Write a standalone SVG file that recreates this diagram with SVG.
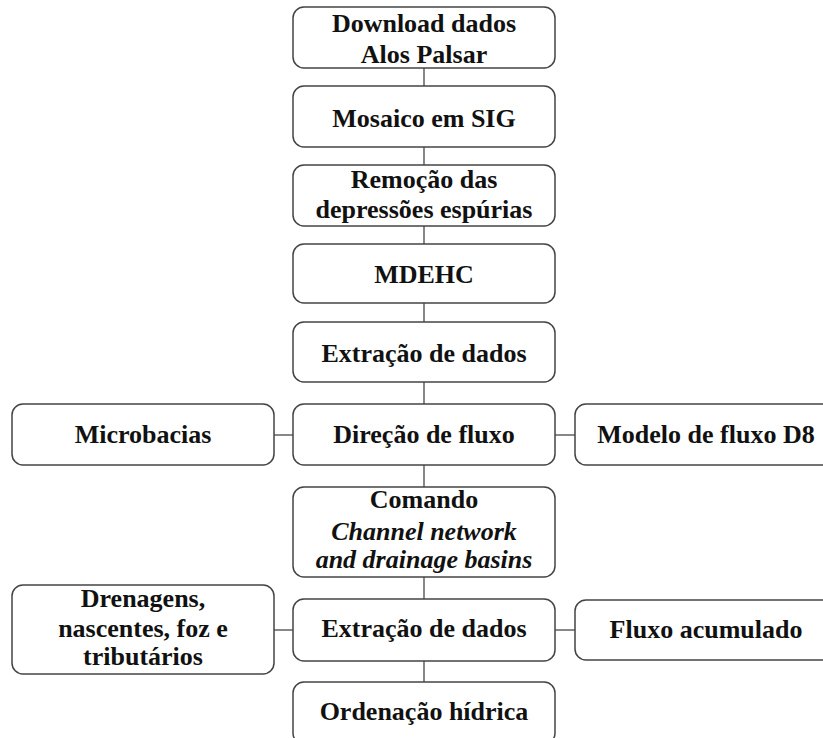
<svg xmlns="http://www.w3.org/2000/svg" width="823" height="738" viewBox="0 0 823 738">
<style>
.box{fill:#fff;stroke:#444;stroke-width:1.5}
.t{font-family:"Liberation Serif","Times New Roman",serif;font-weight:bold;font-size:26px;fill:#111;text-anchor:middle}
.i{font-style:italic}
.c{stroke:#555;stroke-width:1.4;fill:none}
</style>
<rect width="823" height="738" fill="#fff"/>
<g id="connectors">
<line class="c" x1="424" y1="68" x2="424" y2="86"/>
<line class="c" x1="424" y1="147" x2="424" y2="165"/>
<line class="c" x1="424" y1="226" x2="424" y2="244"/>
<line class="c" x1="424" y1="303" x2="424" y2="322"/>
<line class="c" x1="424" y1="382" x2="424" y2="404"/>
<line class="c" x1="424" y1="465" x2="424" y2="487"/>
<line class="c" x1="424" y1="577" x2="424" y2="599"/>
<line class="c" x1="424" y1="661" x2="424" y2="682"/>
<line class="c" x1="274" y1="435" x2="293" y2="435"/>
<line class="c" x1="555" y1="435" x2="575" y2="435"/>
<line class="c" x1="274" y1="630" x2="293" y2="630"/>
<line class="c" x1="555" y1="630" x2="575" y2="630"/>
</g>
<g id="n1"><rect class="box" x="293" y="7" width="262" height="61" rx="11"/><text class="t" x="424" y="32">Download dados</text><text class="t" x="424" y="63">Alos Palsar</text></g>
<g id="n2"><rect class="box" x="293" y="86" width="262" height="61" rx="11"/><text class="t" x="424" y="127">Mosaico em SIG</text></g>
<g id="n3"><rect class="box" x="293" y="165" width="262" height="61" rx="11"/><text class="t" x="424" y="188">Remoção das</text><text class="t" x="424" y="218">depressões espúrias</text></g>
<g id="n4"><rect class="box" x="293" y="244" width="262" height="59" rx="11"/><text class="t" x="424" y="283">MDEHC</text></g>
<g id="n5"><rect class="box" x="293" y="322" width="262" height="60" rx="11"/><text class="t" x="424" y="362">Extração de dados</text></g>
<g id="n6"><rect class="box" x="293" y="404" width="262" height="61" rx="11"/><text class="t" x="424" y="443">Direção de fluxo</text></g>
<g id="n7"><rect class="box" x="12" y="404" width="262" height="61" rx="11"/><text class="t" x="143" y="443">Microbacias</text></g>
<g id="n8"><rect class="box" x="575" y="404" width="262" height="61" rx="11"/><text class="t" x="706" y="443">Modelo de fluxo D8</text></g>
<g id="n9"><rect class="box" x="293" y="487" width="262" height="90" rx="11"/><text class="t" x="424" y="508">Comando</text><text class="t i" x="424" y="540">Channel network</text><text class="t i" x="424" y="568">and drainage basins</text></g>
<g id="n10"><rect class="box" x="293" y="599" width="262" height="62" rx="11"/><text class="t" x="424" y="637">Extração de dados</text></g>
<g id="n11"><rect class="box" x="12" y="585" width="262" height="89" rx="11"/><text class="t" x="143" y="607">Drenagens,</text><text class="t" x="143" y="637">nascentes, foz e</text><text class="t" x="143" y="665">tributários</text></g>
<g id="n12"><rect class="box" x="575" y="600" width="262" height="60" rx="11"/><text class="t" x="706" y="638">Fluxo acumulado</text></g>
<g id="n13"><rect class="box" x="293" y="682" width="262" height="62" rx="11"/><text class="t" x="424" y="720">Ordenação hídrica</text></g>
</svg>
